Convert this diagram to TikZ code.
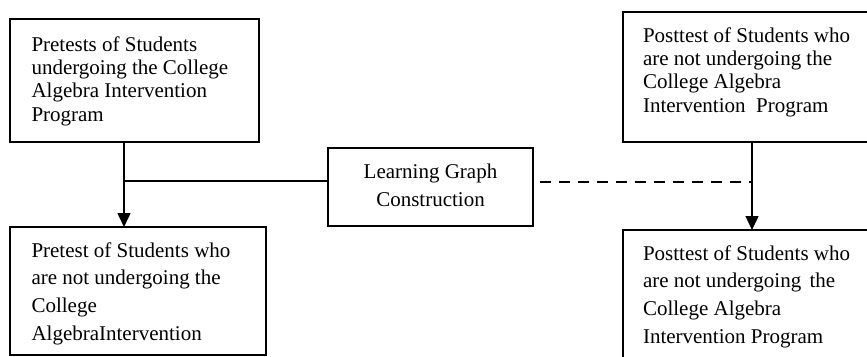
\documentclass[tikz,border=0pt]{standalone}
\usepackage{fontspec}
\setmainfont{Liberation Serif}
\usetikzlibrary{arrows.meta}
\begin{document}
\begin{tikzpicture}[x=1pt,y=-1pt,
  box/.style={draw, line width=1.5pt, inner sep=0pt, outer sep=0pt, anchor=north west},
  txt/.style={inner sep=0pt, outer sep=0pt, anchor=base west},
  tight/.style={font=\fontsize{21}{23.4}\selectfont},
  loose/.style={font=\fontsize{21}{27.7}\selectfont},
  conn/.style={line width=1.5pt},
  arr/.style={conn, -{Triangle[width=13pt,length=14pt]}},
  dash5/.style={conn, dash pattern=on 11pt off 8pt}]
\useasboundingbox (0,0) rectangle (867,356);
\clip (0,0) rectangle (867,356);
% boxes
\node[box, minimum width=249pt, minimum height=123pt] (A) at (10,19) {};
\node[box, minimum width=256pt, minimum height=128pt] (B) at (10,227) {};
\node[box, minimum width=205pt, minimum height=78pt] (C) at (328,148) {};
\node[box, minimum width=262pt, minimum height=130pt] (D) at (623,12) {};
\node[box, minimum width=262pt, minimum height=150pt] (E) at (623,230) {};
% texts
\node[txt, tight] (tA) at (31.5,51) {\parbox[t]{225pt}{Pretests of Students\\undergoing the College\\Algebra Intervention\\Program}};
\node[txt, loose] (tB) at (31.5,257) {\parbox[t]{232pt}{Pretest of Students who\\are not undergoing the\\College\\AlgebraIntervention}};
\node[inner sep=0pt, outer sep=0pt, anchor=base, font=\fontsize{21}{28}\selectfont] (tC) at (430.5,178) {\parbox[t]{200pt}{\centering Learning Graph\\Construction}};
\node[txt, tight] (tD) at (643,42) {\parbox[t]{222pt}{Posttest of Students who\\are not undergoing the\\College Algebra\\Intervention\ \ Program}};
\node[txt, loose] (tE) at (643,260) {\parbox[t]{222pt}{Posttest of Students who\\are not undergoing\hspace{0.4em}the\\College Algebra\\Intervention Program}};
% junctions
\coordinate (j1) at (124,181);
\coordinate (j2) at (752,182);
% connectors
\draw[arr] (A.south -| j1) -- (B.north -| j1);
\draw[conn] (j1) -- (C.west |- j1);
\draw[dash5] ([xshift=7pt]C.east |- j2) -- (j2);
\draw[arr] (D.south -| j2) -- (E.north -| j2);
\end{tikzpicture}
\end{document}
